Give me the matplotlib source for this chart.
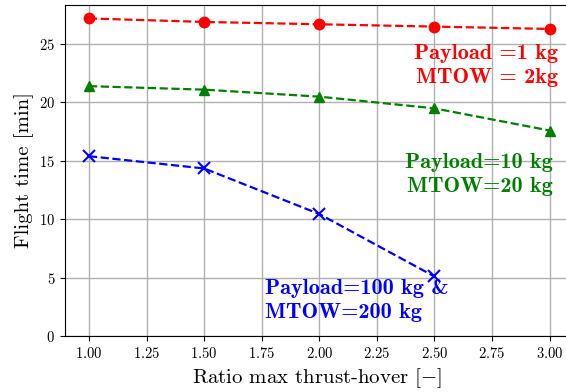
import matplotlib
matplotlib.use("Agg")
import matplotlib.pyplot as plt

plt.rcParams['font.family'] = 'serif'
plt.rcParams['font.serif'] = ['cmr10']
plt.rcParams['mathtext.fontset'] = 'cm'
plt.rcParams['axes.formatter.use_mathtext'] = True

ratio = [1.0, 1.5, 2.0, 2.5, 3.0]
t_1kg = [27.2, 26.9, 26.7, 26.5, 26.3]
t_10kg = [21.4, 21.1, 20.5, 19.5, 17.6]
ratio_100 = [1.0, 1.5, 2.0, 2.5]
t_100kg = [15.4, 14.35, 10.45, 5.1]

fig = plt.figure(figsize=(5.66, 3.92), dpi=100)
ax = fig.add_axes([65/566, 56/392, 503/566, 331/392])

ax.plot(ratio, t_1kg, 'r--o', markersize=7.5, linewidth=1.6)
ax.plot(ratio, t_10kg, 'g--^', markersize=7.5, linewidth=1.6)
ax.plot(ratio_100, t_100kg, 'b--x', markersize=8, linewidth=1.6, markeredgewidth=1.5)

ax.set_xlim(0.896, 3.08)
ax.set_ylim(0, 28.35)
ax.grid(True, color='#b0b0b0', linewidth=1)
ax.set_axisbelow(True)
ax.tick_params(labelsize=10.5)
ax.set_xticks([1.0, 1.25, 1.5, 1.75, 2.0, 2.25, 2.5, 2.75, 3.0])
ax.set_xlabel(r'Ratio max thrust-hover $[-]$', fontsize=15)
ax.set_ylabel('Flight time [min]', fontsize=15)

ax.text(3.036, 25.0, 'Payload =1 kg\nMTOW = 2kg', color='red', fontfamily='cmb10',
        fontsize=16, ha='right', va='top', linespacing=1.35)
ax.text(3.015, 15.7, 'Payload=10 kg\nMTOW=20 kg', color='green', fontfamily='cmb10',
        fontsize=16, ha='right', va='top', linespacing=1.35)
ax.text(1.764, 4.9, 'Payload=100 kg &\nMTOW=200 kg', color='blue', fontfamily='cmb10',
        fontsize=16, ha='left', va='top', linespacing=1.35)

fig.savefig('out.png', dpi=100)
